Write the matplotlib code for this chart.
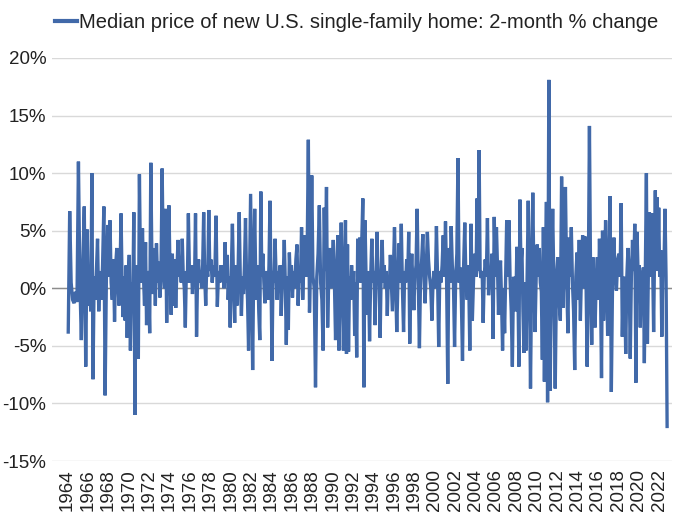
import matplotlib
matplotlib.use("Agg")
import matplotlib.pyplot as plt
import numpy as np

# 2-month % change of median new-home price, grouped by year
first_year = 1964
last_year_months = 10  # data ends Oct 2022

v1960s = [
    [-3.8, 6.7, 0.5, -1.0, -1.3, -0.3, -1.2],
    [11.0, 0.5, -4.5, 2.0, 7.1, -6.8, 5.1],
    [-1.5, 1.0, -2.0, 10.0, -7.9, 1.0, -1.0, 1.5, 4.3],
    [-2.0, 1.5, -1.0, 2.0, 7.1, -9.3, 1.0, 5.5],
    [1.0, 5.9, 0.5, -1.0, 2.5, -2.9, 2.0, 3.5, 0.5],
    [-1.5, 1.5, 6.5, 0.5, -2.5, 1.0, -2.8, 2.0, -4.3, 0.5],
]
v1970s = [
    [2.9, -5.4, 0.5, -2.0, 6.6, -11.0, 2.0, -2.0, -6.1],
    [9.9, 2.0, 0.5, 5.2, 1.0, -1.5, 4.0, -3.2, 1.5, 0.5],
    [-3.9, 10.9, 2.0, -0.5, 3.5, -1.5, 3.9, 0.5, 2.3],
    [-0.8, 1.5, 10.4, 2.0, 0.0, 6.9, -3.0, 2.0, 7.2],
    [1.0, -2.3, 3.0, -1.5, 2.5, -1.7, 1.5, 4.2, 1.0],
    [2.5, 0.5, 4.3, 1.0, 0.0, -3.4, 1.5, 0.5, 6.5, 1.5],
    [0.5, 2.0, -0.5, 1.5, 0.5, 6.5, -4.2, 1.0, 2.5, 0.5],
    [1.5, 0.0, 2.0, 6.6, 1.0, -1.5, 2.0, 1.0, 6.8, 1.5],
    [2.5, 0.5, 2.0, 1.0, 6.3, -1.6, 1.5, 0.5],
    [2.0, 1.0, 1.5, 0.0, 4.0, 0.5, 2.9, -1.0, 1.0, -3.4],
]
v1980s = [
    [1.5, 5.6, 0.5, -3.0, 2.0, -1.5, 1.5, 6.6, 0.5],
    [-2.4, 1.0, -0.5, 2.0, 6.1, 1.0, -1.0, -5.4, 1.5, 8.2],
    [0.5, -7.1, 1.5, 6.9, 1.0, -1.0, 2.0, -2.0, -4.5, 8.4],
    [1.0, 3.0, 0.5, -1.3, 0.0, 1.5, -1.0, 2.0, 7.6, 0.5],
    [-6.3, 1.5, 0.5, 4.3, 1.0, -1.0, 1.5, 0.0, 2.0, -2.4],
    [0.5, 1.0, 4.2, 0.5, -4.9, 1.0, -3.6, 3.1, 0.5, 2.0],
    [-0.8, 1.5, 0.0, 2.5, 3.8, -1.5, 1.5, 0.5, 5.3],
    [-1.0, 2.0, 4.6, 1.0, 3.5, 12.9, -2.1, 2.0, 9.8],
    [1.0, 0.0, -8.6, 1.0, 3.0, 7.2, 0.5, -1.0],
    [-5.4, 7.0, 1.5, 8.8, -3.4, 1.0, 3.5, 0.0, 1.5],
]
v1990s = [
    [4.2, 0.5, -4.5, 1.0, 4.6, -5.4, 0.5, 5.7, 0.0],
    [-5.4, 1.0, 5.9, -5.7, 3.8, -5.5, 1.0, -1.0, 2.0, -0.5],
    [1.5, -4.1, 0.5, -6.0, 4.3, 1.0, 4.4, 0.5, 4.3, 7.8],
    [-8.6, 5.9, 0.5, -2.3, 1.5, -4.6, 1.0, 4.3, 0.5],
    [1.5, -3.2, 1.0, 4.9, 0.5, 1.0, -4.3, 1.5, 4.2, 0.5],
    [2.0, 0.0, 1.5, -2.4, 1.0, 0.0, 2.9, 0.5, -2.0, 1.5],
    [5.3, 0.5, -3.8, 0.5, 3.9, 0.5, 5.6, 0.0, -3.8],
    [1.5, 0.5, 2.5, 1.0, 4.9, -4.8, 1.0, 3.0, 0.5, -1.9],
    [1.0, 2.0, 6.9, 0.5, -5.2, 1.0, 2.5, 4.7, 1.0],
    [-1.3, 1.5, 4.9, 2.5, 1.0, 0.0, -2.8, 0.5, 1.5],
]
v2000s = [
    [0.0, 5.4, 1.0, -5.1, 1.5, 0.5, 2.0, 4.6, 1.0],
    [5.8, 0.5, -8.3, 3.5, 0.5, 5.4, 2.0, 0.5, -5.1],
    [1.0, 3.0, 11.3, 0.5, 1.8, -1.0, -6.3, 2.0, 5.7],
    [0.5, -1.0, 2.0, -5.4, 5.6, -2.8, 1.0, 3.0],
    [1.0, 7.8, 1.5, 12.0, 1.5, 0.9, 1.5, -3.0, 1.0, 2.5],
    [1.0, 6.1, -0.6, 1.5, 0.5, 3.0, -4.4, 6.2, 1.0],
    [5.3, 2.0, -2.3, 1.0, 2.4, -1.0, -5.4, 0.0, -3.9, 1.0],
    [5.9, 1.0, 5.9, 0.7, -2.0, -6.8, 1.0, 0.4, -2.0],
    [3.6, 0.5, -6.8, 7.7, 2.0, 3.5, -2.0, -5.6, 0.5, -5.4],
    [1.0, 7.6, 1.0, -8.7, 1.0, 8.3, 1.0, -3.8, 1.0],
]
v2010s = [
    [3.8, 1.0, 3.5, 0.5, -0.3, -6.2, 5.3, -8.1, 1.0, 7.5],
    [-9.9, 18.1, -8.9, 1.0, 6.9, 0.0, -8.7, 1.0],
    [2.7, -1.0, -2.8, 9.7, -1.7, 2.0, 8.8, 0.5],
    [-3.9, 4.4, 1.0, 5.3, 0.5, -2.0, -7.1, 1.0, 3.1],
    [-1.0, 4.2, -2.8, 1.5, 4.6, 0.0, 4.5, 0.5, -6.8],
    [1.0, 14.1, 1.0, -4.9, 2.7, 0.5, -3.4, 1.0, 2.7],
    [-1.0, 4.3, 0.0, -7.8, 5.0, -2.8, 1.0, 5.9, 1.0, -4.1],
    [2.0, 8.0, -9.0, 1.0, 4.4, 1.0, -0.2, 2.5],
    [3.0, 1.0, 7.4, -4.2, 1.0, 0.5, -5.7, 1.0, 3.5],
    [1.5, -6.1, 1.0, 4.2, 1.5, 5.6, -8.2, 4.9, 1.0],
]
v2020s = [
    [2.0, -3.4, 1.5, 0.5, 1.8, -6.5, 2.0, 10.0, -4.8, 2.0],
    [6.6, 1.0, 5.0, 6.5, 1.0, -3.8, 2.0, 8.5, 1.5, 7.9, 2.0, 7.0],
    [1.0, 3.3, -4.2, 2.0, 1.5, 6.9, 1.0, -12.0],
]

year_tick_labels = [str(y) for y in range(1964, 2023, 2)]
y_ticks = [-15, -10, -5, 0, 5, 10, 15, 20]
series_label = "Median price of new U.S. single-family home: 2-month % change"

# build time axis
by_year = v1960s + v1970s + v1980s + v1990s + v2000s + v2010s + v2020s
t, v = [], []
for k, vals in enumerate(by_year):
    yr = first_year + k
    span = 1.0 if k < len(by_year) - 1 else last_year_months / 12.0
    n = len(vals)
    for i, val in enumerate(vals):
        t.append(yr + (i + 0.5) / n * span)
        v.append(val)

plt.rcParams['font.family'] = ['Liberation Sans', 'DejaVu Sans']

fig = plt.figure(figsize=(6.8, 5.25), dpi=100)
ax = fig.add_axes([52 / 680, 1 - 461 / 525, 620 / 680, 403 / 525])

line_color = '#4169a9'
ax.plot(t, v, color=line_color, lw=2.4, solid_joinstyle='miter', label=series_label, zorder=3)

ax.set_ylim(-15, 20)
ax.set_xlim(1962.48, 2023.26)
ax.set_yticks(y_ticks)
ax.set_yticklabels([f"{y}%" for y in y_ticks], fontsize=13.5)
ax.yaxis.grid(True, color='#d9d9d9', lw=1.0)
ax.set_axisbelow(True)
ax.axhline(0, color='#8c8c8c', lw=1.0, zorder=2)

ax.set_xticks([int(s) for s in year_tick_labels])
ax.set_xticklabels(year_tick_labels, rotation=90, fontsize=13.5, va='top', ha='center')
ax.tick_params(axis='both', length=0, colors='#222222')
ax.tick_params(axis='y', pad=4)
ax.tick_params(axis='x', pad=6)
for s in ax.spines.values():
    s.set_visible(False)

leg = ax.legend(loc='upper left', bbox_to_anchor=(55 / 680, 1 - 13 / 525),
                bbox_transform=fig.transFigure, frameon=False, fontsize=14.5,
                handlelength=1.1, handletextpad=0.1, borderpad=0, borderaxespad=0)
for txt in leg.get_texts():
    txt.set_color('#222222')
for h in leg.get_lines():
    h.set_linewidth(3)

fig.savefig('out.png', dpi=100)
